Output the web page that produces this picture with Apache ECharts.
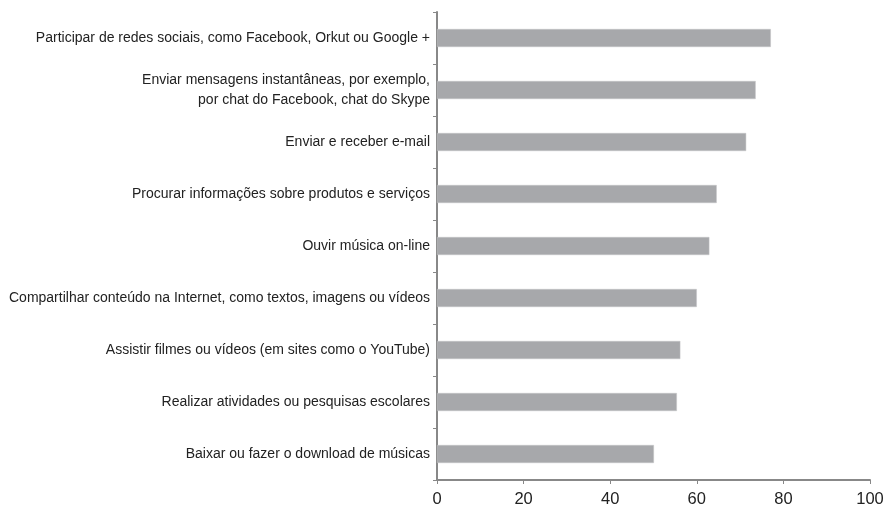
<!DOCTYPE html>
<html>
<head>
<meta charset="utf-8">
<script src="https://cdn.jsdelivr.net/npm/echarts@6/dist/echarts.min.js"></script>
<style>
  html, body { margin: 0; padding: 0; background: #fff; }
  #chart { width: 887px; height: 508px; }
</style>
</head>
<body>
<div id="chart"></div>
<script>
const categories = [
  'Participar de redes sociais, como Facebook, Orkut ou Google +',
  'Enviar mensagens instantâneas, por exemplo,\npor chat do Facebook, chat do Skype',
  'Enviar e receber e-mail',
  'Procurar informações sobre produtos e serviços',
  'Ouvir música on-line',
  'Compartilhar conteúdo na Internet, como textos, imagens ou vídeos',
  'Assistir filmes ou vídeos (em sites como o YouTube)',
  'Realizar atividades ou pesquisas escolares',
  'Baixar ou fazer o download de músicas'
]
const values = [77.1, 73.6, 71.4, 64.6, 62.9, 60.0, 56.2, 55.4, 50.1]

const chart = echarts.init(document.getElementById('chart'))

chart.setOption({
  animation: false,
  grid: { left: 437, right: 17, top: 12, bottom: 26, containLabel: false },
  xAxis: {
    type: 'value',
    min: 0,
    max: 100,
    interval: 20,
    splitLine: { show: false },
    axisLine: { show: true, lineStyle: { color: '#888', width: 2 } },
    axisTick: { show: true, length: 4, lineStyle: { color: '#888' } },
    axisLabel: { color: '#222', fontSize: 16.5, fontFamily: 'Liberation Sans, Arial, sans-serif', margin: 11 }
  },
  yAxis: {
    type: 'category',
    inverse: true,
    data: categories,
    axisLine: { show: true, lineStyle: { color: '#888', width: 2 } },
    axisTick: { show: true, length: 4, lineStyle: { color: '#888' } },
    axisLabel: {
      color: '#222',
      fontSize: 14,
      fontFamily: 'Liberation Sans, Arial, sans-serif',
      lineHeight: 20,
      margin: 7,
      align: 'right'
    }
  },
  series: [
    {
      type: 'bar',
      data: values,
      barWidth: 18,
      itemStyle: { color: '#a7a8ab', borderColor: '#c4c5c7', borderWidth: 0.5 }
    }
  ]
})
</script>
</body>
</html>
